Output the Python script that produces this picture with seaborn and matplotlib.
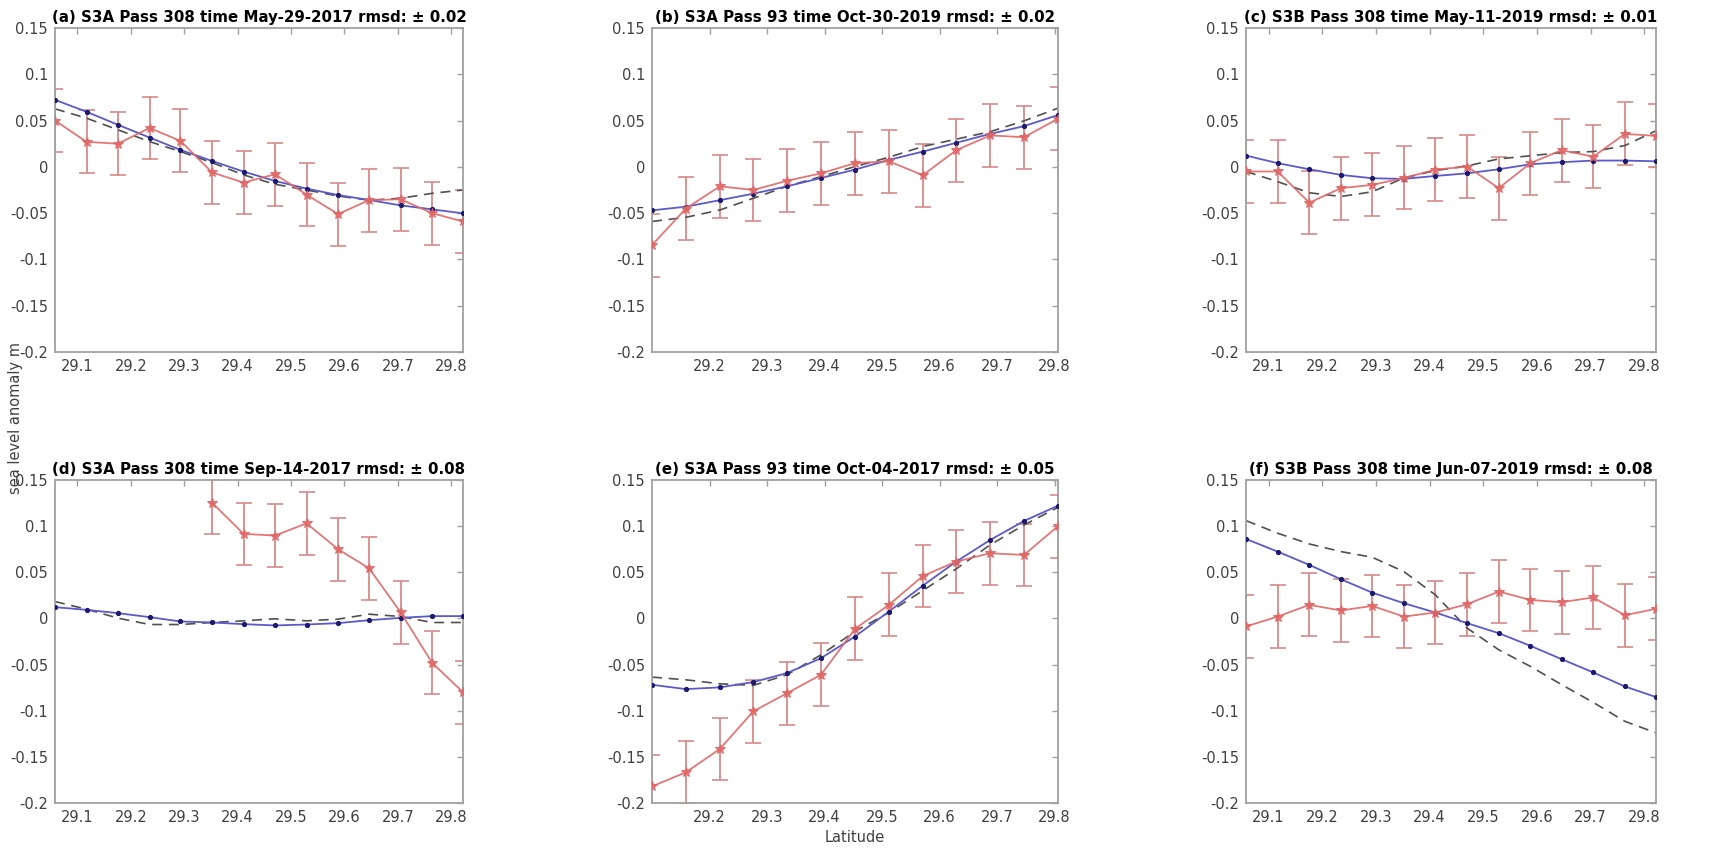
import numpy as np
import pandas as pd
import matplotlib
matplotlib.use("Agg")
import matplotlib.pyplot as plt
import seaborn as sns

# ---------------- data ----------------
lat_long = [29.058, 29.117, 29.176, 29.235, 29.293, 29.352, 29.411,
            29.470, 29.529, 29.588, 29.646, 29.705, 29.764, 29.822]
lat_short = [29.100, 29.159, 29.218, 29.276, 29.335, 29.394, 29.453,
             29.512, 29.571, 29.629, 29.688, 29.747, 29.806]

titles = [
    "(a) S3A Pass 308 time May-29-2017 rmsd: \u00b1 0.02",
    "(b) S3A Pass 93 time Oct-30-2019 rmsd: \u00b1 0.02",
    "(c) S3B Pass 308 time May-11-2019 rmsd: \u00b1 0.01",
    "(d) S3A Pass 308 time Sep-14-2017 rmsd: \u00b1 0.08",
    "(e) S3A Pass 93 time Oct-04-2017 rmsd: \u00b1 0.05",
    "(f) S3B Pass 308 time Jun-07-2019 rmsd: \u00b1 0.08",
]

# observed (red, with error bars)
obs_a = [0.050, 0.027, 0.025, 0.042, 0.028, -0.006, -0.017, -0.008, -0.030, -0.051, -0.036, -0.035, -0.050, -0.059]
obs_b = [-0.0845, -0.045, -0.021, -0.025, -0.015, -0.007, 0.004, 0.006, -0.009, 0.018, 0.034, 0.032, 0.052]
obs_c = [-0.005, -0.005, -0.0387, -0.023, -0.0195, -0.012, -0.003, 0.0003, -0.023, 0.004, 0.018, 0.011, 0.0356, 0.0335]
obs_d = [np.nan, np.nan, np.nan, np.nan, np.nan, 0.1255, 0.0916, 0.0898, 0.103, 0.075, 0.0544, 0.0068, -0.048, -0.080]
obs_e = [-0.182, -0.1667, -0.1415, -0.1007, -0.081, -0.061, -0.0113, 0.0147, 0.046, 0.0616, 0.0706, 0.0688, 0.100]
obs_f = [-0.0087, 0.002, 0.0147, 0.0086, 0.0136, 0.002, 0.0064, 0.0154, 0.0291, 0.020, 0.0176, 0.0227, 0.0035, 0.0104]

# model (blue, solid with dots)
mod_a = [0.0724, 0.0595, 0.0454, 0.0317, 0.0183, 0.0064, -0.0051, -0.0152, -0.0235, -0.0304, -0.0358, -0.0416, -0.0459, -0.0502]
mod_b = [-0.047, -0.043, -0.036, -0.029, -0.021, -0.012, -0.003, 0.0075, 0.0165, 0.026, 0.0356, 0.044, 0.056]
mod_c = [0.0122, 0.004, -0.0026, -0.0087, -0.0123, -0.013, -0.0098, -0.007, -0.0026, 0.0028, 0.005, 0.0068, 0.0068, 0.006]
mod_d = [0.0122, 0.0093, 0.0057, 0.0014, -0.0033, -0.0044, -0.0062, -0.0076, -0.0066, -0.0051, -0.0019, 0.0006, 0.0025, 0.0025]
mod_e = [-0.0719, -0.0766, -0.0747, -0.069, -0.0592, -0.043, -0.0196, 0.0075, 0.0356, 0.0616, 0.085, 0.1056, 0.1222]
mod_f = [0.0861, 0.0724, 0.058, 0.0424, 0.028, 0.0165, 0.0064, -0.0051, -0.016, -0.0297, -0.0441, -0.0585, -0.0737, -0.0852]

# reference (black dashed)
ref_a = [0.0627, 0.0526, 0.040, 0.0273, 0.0165, 0.0046, -0.0087, -0.0188, -0.025, -0.0315, -0.036, -0.034, -0.0286, -0.025]
ref_b = [-0.059, -0.0545, -0.0466, -0.034, -0.021, -0.0105, 0.0003, 0.0104, 0.022, 0.0299, 0.038, 0.0497, 0.0634]
ref_c = [-0.005, -0.016, -0.028, -0.032, -0.027, -0.012, -0.004, 0.001, 0.0086, 0.012, 0.0154, 0.0165, 0.023, 0.039]
ref_d = [0.0183, 0.010, 0.0003, -0.0066, -0.0066, -0.0044, -0.0026, -0.0004, -0.0026, -0.0008, 0.0046, 0.0021, -0.0044, -0.0044]
ref_e = [-0.0636, -0.0665, -0.0708, -0.0726, -0.061, -0.0394, -0.0141, 0.0064, 0.0302, 0.0537, 0.0797, 0.1013, 0.1204]
ref_f = [0.106, 0.0923, 0.0807, 0.0724, 0.0663, 0.0508, 0.0255, -0.0105, -0.034, -0.052, -0.0717, -0.091, -0.1115, -0.124]

# error bar half-width per panel
err_halfwidth = [0.034, 0.034, 0.034, 0.034, 0.034, 0.034]

lats = [lat_long, lat_short, lat_long, lat_long, lat_short, lat_long]
obs = [obs_a, obs_b, obs_c, obs_d, obs_e, obs_f]
mods = [mod_a, mod_b, mod_c, mod_d, mod_e, mod_f]
refs = [ref_a, ref_b, ref_c, ref_d, ref_e, ref_f]

xticks_long = [29.1, 29.2, 29.3, 29.4, 29.5, 29.6, 29.7, 29.8]
xticks_short = [29.2, 29.3, 29.4, 29.5, 29.6, 29.7, 29.8]
xtick_sets = [xticks_long, xticks_short, xticks_long, xticks_long, xticks_short, xticks_long]
yticks = [-0.2, -0.15, -0.1, -0.05, 0, 0.05, 0.1, 0.15]
ytick_labels = ["-0.2", "-0.15", "-0.1", "-0.05", "0", "0.05", "0.1", "0.15"]

# ---------------- style ----------------
sns.set_theme(style="white")
plt.rcParams['font.family'] = ['DejaVu Sans']

W, H = 1728, 848
fig = plt.figure(figsize=(W / 100, H / 100), dpi=100)

# axes boxes in pixels: (left, top, right, bottom)
boxes = [
    (55, 28, 463, 352), (652, 28, 1058, 352), (1246, 28, 1656, 352),
    (55, 480, 463, 803), (652, 480, 1058, 803), (1246, 480, 1656, 803),
]

red = "#e06868"
red_err = "#d88a8a"
blue = "#5a5ac8"
navy = "#1a1a70"
dash = "#505050"
axcol = "#a0a0a0"
txtcol = "#404040"

for i in range(6):
    l, t, r, b = boxes[i]
    ax = fig.add_axes([l / W, 1 - b / H, (r - l) / W, (b - t) / H])
    x = lats[i]
    df = pd.DataFrame({"lat": x, "obs": obs[i], "mod": mods[i], "ref": refs[i]})

    # dashed reference
    sns.lineplot(data=df, x="lat", y="ref", ax=ax, color=dash, lw=1.2,
                 linestyle=(0, (6, 4)), zorder=2)
    # model
    sns.lineplot(data=df, x="lat", y="mod", ax=ax, color=blue, lw=1.3,
                 marker="o", markersize=3, markerfacecolor=navy,
                 markeredgecolor=navy, zorder=3)
    # observed
    valid = df.dropna(subset=["obs"])
    ax.errorbar(valid["lat"], valid["obs"], yerr=err_halfwidth[i],
                fmt="none", ecolor=red_err, elinewidth=1.3, capsize=6,
                capthick=1.2, zorder=1, clip_on=True)
    sns.lineplot(data=valid, x="lat", y="obs", ax=ax, color=red, lw=1.3,
                 marker="*", markersize=7, markerfacecolor=red,
                 markeredgecolor=red, alpha=0.9, zorder=4)

    ax.set_xlim(x[0], x[-1])
    ax.set_ylim(-0.2, 0.15)
    ax.set_xticks(xtick_sets[i])
    ax.set_xticklabels([f"{v:.1f}" for v in xtick_sets[i]])
    ax.set_yticks(yticks)
    ax.set_yticklabels(ytick_labels)
    ax.set_xlabel("")
    ax.set_ylabel("")
    ax.tick_params(direction="in", length=4, width=1, color=axcol,
                   labelsize=10.5, labelcolor=txtcol, top=True, right=True,
                   pad=5)
    for s in ax.spines.values():
        s.set_color(axcol)
        s.set_linewidth(1.3)
    ax.set_title(titles[i], fontsize=10.8, fontweight="bold", color="black",
                 pad=4)

fig.text(16 / W, 1 - 418 / H, "sea level anomaly m", rotation=90,
         ha="center", va="center", fontsize=10.5, color=txtcol)
fig.text(855 / W, 1 - 838 / H, "Latitude", ha="center", va="center",
         fontsize=10.5, color=txtcol)

fig.savefig("out.png", dpi=100, facecolor="white")
